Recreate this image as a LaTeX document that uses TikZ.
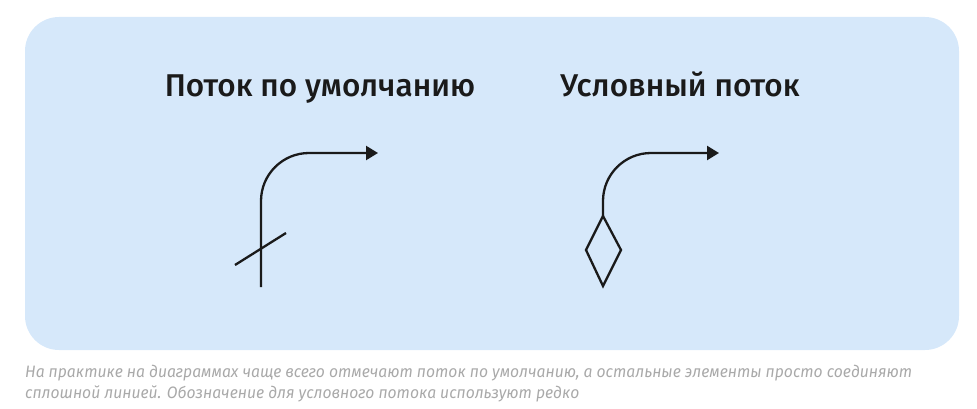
\documentclass[tikz,border=0pt]{standalone}
\usepackage{fontspec}
\setmainfont{Fira Sans}
\newfontfamily\titlefont{Fira Sans Medium}
\usetikzlibrary{arrows.meta}
\definecolor{panel}{HTML}{D6E8FA}
\definecolor{ink}{HTML}{1A1A1A}
\definecolor{capgray}{HTML}{A9A9A9}
\tikzset{
  flow/.style={draw=ink, line width=2.3pt, rounded corners=48pt},
  tip/.style={-{Triangle[length=12pt,width=14pt]}},
  title/.style={font=\titlefont\fontsize{31.5}{36}\selectfont, text=ink, inner sep=0pt},
  caption/.style={font=\itshape\fontsize{16.5}{20}\selectfont, text=capgray, inner sep=0pt, anchor=base west, xscale=0.95, transform shape}
}
\begin{document}
\begin{tikzpicture}[x=1pt,y=-1pt]
\useasboundingbox (0,0) rectangle (977,409);
\fill[panel, rounded corners=34pt] (25,17) rectangle (959,350);
\node[title, anchor=base] (t1) at (320,97) {Поток по умолчанию};
\node[title, anchor=base] (t2) at (680,97) {Условный поток};
% default flow
\coordinate (a0) at (261,287);
\coordinate (a1) at (261,153);
\coordinate (a2) at (378,153);
\draw[flow, tip] (a0) -- (a1) -- (a2);
\coordinate (s0) at (235,265);
\coordinate (s1) at (286,233);
\draw[draw=ink, line width=2.3pt] (s0) -- (s1);
% conditional flow
\coordinate (d0) at (603,216);
\coordinate (d1) at (621,250);
\coordinate (d2) at (603,286);
\coordinate (d3) at (586,250);
\draw[draw=ink, line width=2.3pt, line join=miter] (d0) -- (d1) -- (d2) -- (d3) -- cycle;
\coordinate (b1) at (603,153);
\coordinate (b2) at (719,153);
\draw[flow, tip] (d0) -- (b1) -- (b2);
\node[caption] (c1) at (25,377) {На практике на диаграммах чаще всего отмечают поток по умолчанию, а остальные элементы просто соединяют};
\node[caption] (c2) at (25,398) {сплошной линией. Обозначение для условного потока используют редко};
\end{tikzpicture}
\end{document}
